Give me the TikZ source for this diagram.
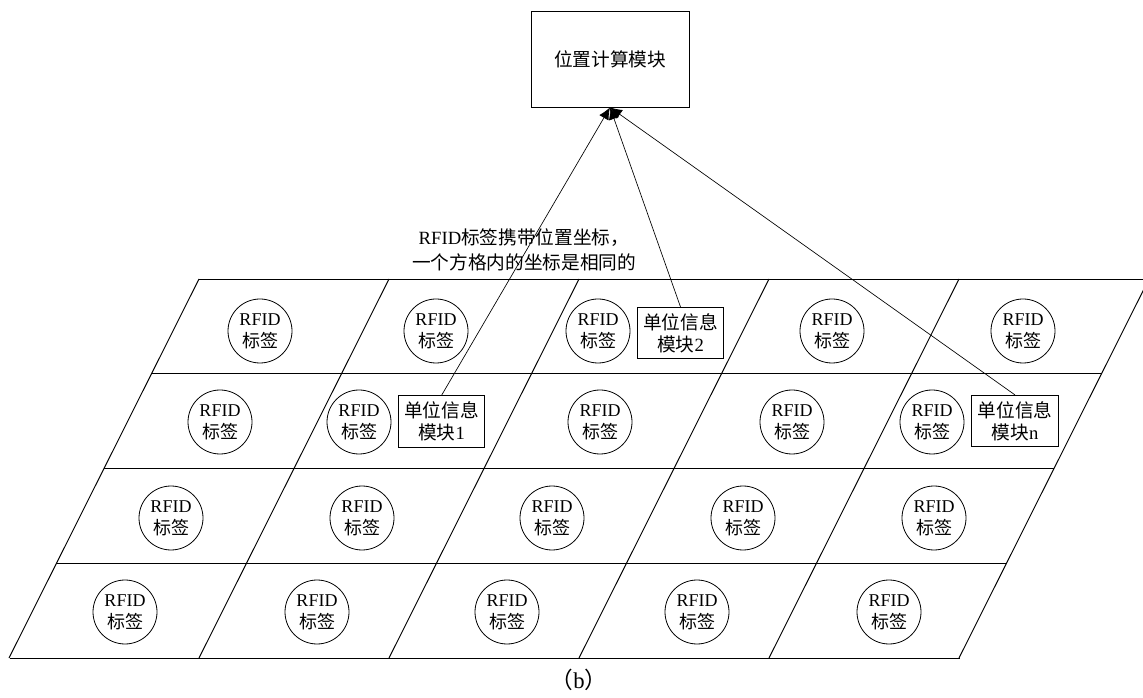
\documentclass[tikz,border=0pt]{standalone}
\usepackage{fontspec}
\setmainfont{Liberation Serif}
\newfontfamily\cjk{Noto Sans CJK SC}
\usetikzlibrary{arrows.meta}
\begin{document}
\begin{tikzpicture}[x=0.75pt,y=-0.75pt,
  tag/.style={circle,draw,line width=0.6pt,minimum size=48pt,inner sep=0pt,align=center,font=\fontsize{13.5}{16.5}\selectfont},
  info/.style={rectangle,draw,line width=0.6pt,minimum width=65pt,minimum height=38.5pt,inner sep=0pt,align=center,font=\fontsize{14}{16.5}\selectfont},
  topbox/.style={rectangle,draw,line width=0.6pt,minimum width=118.5pt,minimum height=72pt,inner sep=0pt,font=\fontsize{14}{16.5}\selectfont},
  gridline/.style={line width=0.7pt},
  link/.style={line width=0.5pt,-{Latex[length=9pt,width=8pt]}},
  plain/.style={align=center,inner sep=0pt,font=\fontsize{14}{18.5}\selectfont}]
\useasboundingbox (0,0) rectangle (1143,698);
\clip (0,0) rectangle (1143,698);
% grid
\foreach \i in {0,...,4} {
  \pgfmathsetmacro\yy{279+94.75*\i}
  \pgfmathsetmacro\xx{199-0.5*94.75*\i}
  \draw[gridline] (\xx,\yy) -- ++(950,0);
}
\foreach \j in {0,...,5} \draw[gridline] (199+190*\j,279) -- (9+190*\j,658);
% RFID tags
\newcommand\tagtext{RFID\\{\cjk 标签}}
\foreach \c/\x in {1/260,2/436,3/598,4/832,5/1023}
  \node[tag] (ta\c) at (\x,331) {\tagtext};
\foreach \c/\x in {1/220,2/359,3/600,4/792,5/932}
  \node[tag] (tb\c) at (\x,422) {\tagtext};
\foreach \c/\x in {1/171,2/362,3/552,4/743,5/934}
  \node[tag] (tc\c) at (\x,518) {\tagtext};
\foreach \c/\x in {1/125,2/317,3/507,4/697,5/889}
  \node[tag] (td\c) at (\x,612) {\tagtext};
% info modules
\node[info] (m1) at (441.5,421.5) {{\cjk 单位信息}\\{\cjk 模块}1};
\node[info] (m2) at (680.5,333) {{\cjk 单位信息}\\{\cjk 模块}2};
\node[info] (mn) at (1015,421) {{\cjk 单位信息}\\{\cjk 模块}n};
% position computation module
\node[topbox] (top) at (610,59) {\cjk 位置计算模块};
% label
\node[plain] (lbl) at (524,250) {RFID{\cjk 标签携带位置坐标，}\\{\cjk 一个方格内的坐标是相同的}};
% links
\draw[link] (m1.north) -- (top.south);
\draw[link] (m2.north) -- (top.south);
\draw[link] (mn.north) -- (top.south);
% caption
\node[plain,font=\fontsize{17}{20}\selectfont] (cap) at (579,680) {{\cjk （}b{\cjk ）}};
\end{tikzpicture}
\end{document}
